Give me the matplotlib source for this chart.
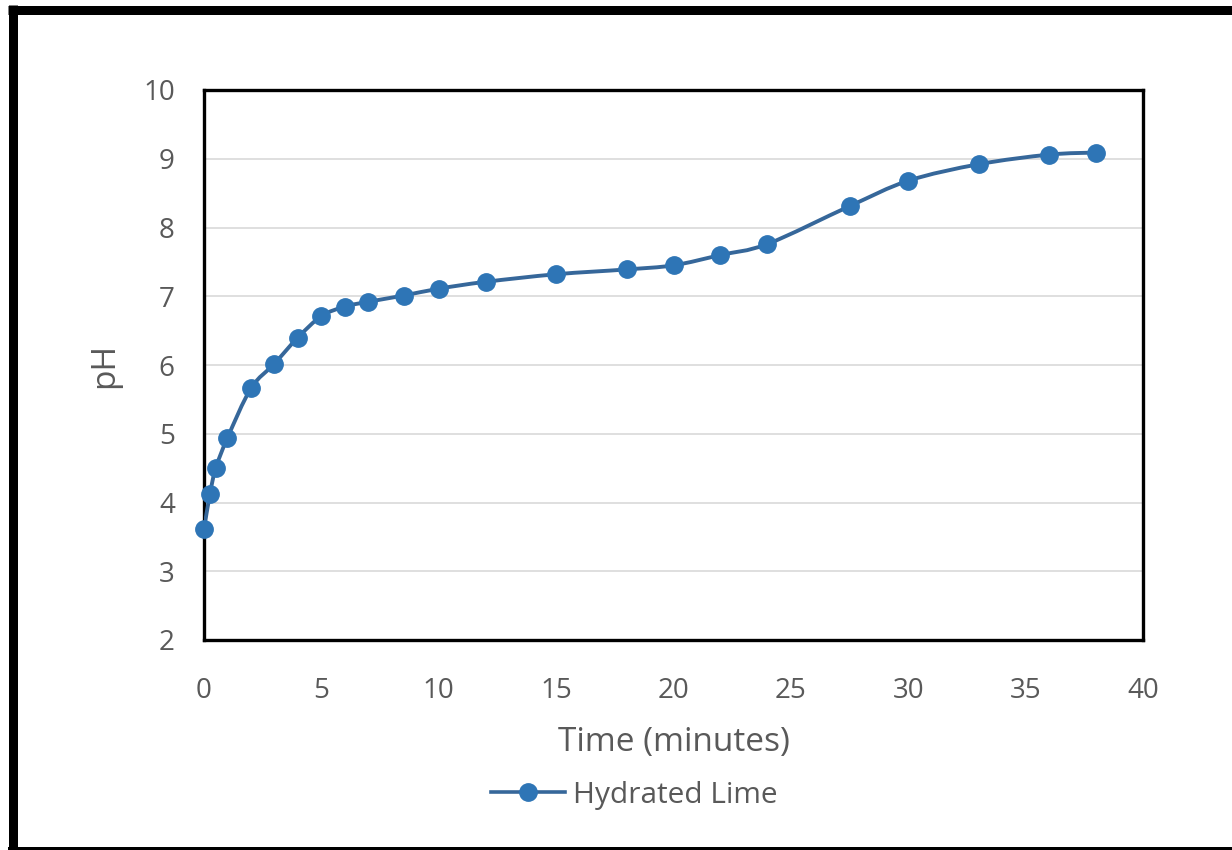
import matplotlib
matplotlib.use('Agg')
import matplotlib.pyplot as plt
from matplotlib.path import Path
from matplotlib.patches import PathPatch
from matplotlib.lines import Line2D
import numpy as np

# ---- data ----
time_min = [0, 0.25, 0.5, 1, 2, 3, 4, 5, 6, 7, 8.5, 10, 12, 15, 18, 20, 22, 24, 27.5, 30, 33, 36, 38]
ph = [3.61, 4.12, 4.50, 4.94, 5.66, 6.02, 6.40, 6.71, 6.85, 6.92, 7.01, 7.11, 7.21, 7.32, 7.39,
      7.45, 7.60, 7.76, 8.31, 8.68, 8.92, 9.06, 9.09]
series_name = "Hydrated Lime"
x_ticks = [0, 5, 10, 15, 20, 25, 30, 35, 40]
y_ticks = [2, 3, 4, 5, 6, 7, 8, 9, 10]
x_label = "Time (minutes)"
y_label = "pH"

BLUE = '#2E75B6'
LINE = '#36679A'
TXT = '#595959'
FONT = 'Open Sans'

W, H = 1232, 850
fig = plt.figure(figsize=(W / 100, H / 100), dpi=100)
fig.patch.set_facecolor('white')

L, R, T, B = 204, 1143, 90, 640
ax = fig.add_axes([L / W, 1 - B / H, (R - L) / W, (B - T) / H])
ax.set_xlim(0, 40)
ax.set_ylim(2, 10)
ax.set_xticks(x_ticks)
ax.set_yticks(y_ticks)
ax.tick_params(axis='both', length=0, labelsize=20, labelcolor=TXT)
ax.tick_params(axis='y', pad=21)
ax.tick_params(axis='x', pad=27)
for lab in ax.get_xticklabels() + ax.get_yticklabels():
    lab.set_fontfamily(FONT)
ax.grid(axis='y', color='#D9D9D9', linewidth=1.2)
ax.set_axisbelow(True)
for s in ax.spines.values():
    s.set_color('black')
    s.set_linewidth(2.4)


def smooth_path(x, y):
    pts = np.column_stack([x, y]).astype(float)
    n = len(pts)
    verts = [pts[0]]
    codes = [Path.MOVETO]
    for i in range(n - 1):
        p0 = pts[i - 1] if i > 0 else pts[i]
        p1 = pts[i]
        p2 = pts[i + 1]
        p3 = pts[i + 2] if i + 2 < n else pts[i + 1]
        c1 = p1 + (p2 - p0) / 6.0
        c2 = p2 - (p3 - p1) / 6.0
        verts += [c1, c2, p2]
        codes += [Path.CURVE4] * 3
    return Path(verts, codes)


ax.add_patch(PathPatch(smooth_path(time_min, ph), facecolor='none', edgecolor=LINE,
                       linewidth=2.8, zorder=3, capstyle='round', joinstyle='round'))
ax.plot(time_min, ph, linestyle='none', marker='o', markersize=12.5,
        markerfacecolor=BLUE, markeredgecolor=BLUE, zorder=4, clip_on=False)

ax.set_xlabel(x_label, fontsize=24, color=TXT, fontfamily=FONT, va='center')
ax.xaxis.set_label_coords(0.5, -(743 - B) / (B - T))
ax.set_ylabel(y_label, fontsize=24, color=TXT, fontfamily=FONT, va='center')
ax.yaxis.set_label_coords((105 - L) / (R - L), 0.5)

handle = Line2D([], [], color=LINE, linewidth=2.6, marker='o', markersize=12.5,
                markerfacecolor=BLUE, markeredgecolor=BLUE)
leg = fig.legend([handle], [series_name], loc='center',
                 bbox_to_anchor=(634 / W, 1 - 795 / H), frameon=False,
                 prop={'family': FONT, 'size': 21.5}, handlelength=2.5, handletextpad=0.25)
for t in leg.get_texts():
    t.set_color(TXT)

# outer black frame (left, top, bottom)
lw = 9 * 0.72
fig.add_artist(Line2D([12.5 / W, 12.5 / W], [0, 1 - 5 / H], transform=fig.transFigure,
                      color='black', linewidth=lw, solid_capstyle='butt'))
fig.add_artist(Line2D([8 / W, 1], [1 - 9.5 / H, 1 - 9.5 / H], transform=fig.transFigure,
                      color='black', linewidth=lw, solid_capstyle='butt'))
fig.add_artist(Line2D([8 / W, 1], [1 - 848.5 / H, 1 - 848.5 / H], transform=fig.transFigure,
                      color='black', linewidth=4 * 0.72, solid_capstyle='butt'))

fig.savefig('out.png', dpi=100, facecolor='white')
